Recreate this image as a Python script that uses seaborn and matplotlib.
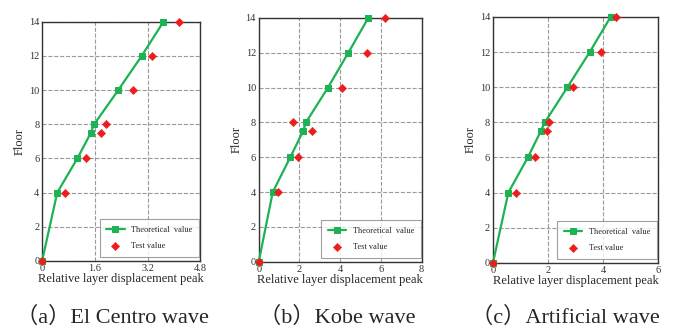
import numpy as np
import pandas as pd
import seaborn as sns
import matplotlib.pyplot as plt

# Floors where values are reported
floors = [0, 4, 6, 7.5, 8, 10, 12, 14]

# (a) El Centro wave
elcentro_theory = [0, 0.46, 1.07, 1.48, 1.58, 2.31, 3.02, 3.68]
elcentro_test = [0, 0.69, 1.34, 1.79, 1.95, 2.77, 3.34, 4.15]

# (b) Kobe wave
kobe_theory = [0, 0.69, 1.55, 2.18, 2.32, 3.40, 4.40, 5.38]
kobe_test = [0, 0.93, 1.95, 2.64, 1.67, 4.08, 5.30, 6.19]

# (c) Artificial wave
artificial_theory = [0, 0.56, 1.27, 1.74, 1.89, 2.71, 3.52, 4.28]
artificial_test = [0, 0.84, 1.54, 1.95, 2.03, 2.92, 3.92, 4.49]

captions = ["（a）El Centro wave", "（b）Kobe wave", "（c）Artificial wave"]
x_ticks = [[0, 1.6, 3.2, 4.8], [0, 2, 4, 6, 8], [0, 2, 4, 6]]
x_ticklabels = [["0", "1.6", "3.2", "4.8"], ["0", "2", "4", "6", "8"], ["0", "2", "4", "6"]]
y_ticks = [0, 2, 4, 6, 8, 10, 12, 14]

sns.set_theme(style="white")
plt.rcParams["font.family"] = ["Liberation Serif", "Noto Sans CJK SC"]

green = "#1db254"
red = "#ee1c1c"

fig = plt.figure(figsize=(6.79, 3.31), dpi=100)
boxes = [[0.062, 0.212, 0.233, 0.722],
         [0.381, 0.209, 0.240, 0.737],
         [0.726, 0.206, 0.243, 0.743]]
caption_x = [0.165, 0.497, 0.832]

series = [(elcentro_theory, elcentro_test),
          (kobe_theory, kobe_test),
          (artificial_theory, artificial_test)]

for i, (theory, test) in enumerate(series):
    ax = fig.add_axes(boxes[i])
    df_theory = pd.DataFrame({"x": theory, "floor": floors})
    df_test = pd.DataFrame({"x": test, "floor": floors})

    sns.lineplot(data=df_theory, x="x", y="floor", sort=False, ax=ax,
                 color=green, lw=1.6, marker="s", markersize=5,
                 markeredgecolor=green, label="Theoretical  value", zorder=3,
                 clip_on=False)
    sns.scatterplot(data=df_test, x="x", y="floor", ax=ax, color=red,
                    marker="D", s=18, edgecolor=red, label="Test value", zorder=4,
                    clip_on=False)

    ax.set_xlim(x_ticks[i][0], x_ticks[i][-1])
    ax.set_ylim(0, 14)
    ax.set_xticks(x_ticks[i])
    ax.set_xticklabels(x_ticklabels[i])
    ax.set_yticks(y_ticks)
    ax.grid(True, ls="--", color="#9a9a9a", lw=0.8)
    ax.tick_params(labelsize=7.5, pad=2, length=0, colors="#333333")
    for s in ax.spines.values():
        s.set_color("#333333")
        s.set_linewidth(1.0)
    ax.set_xlabel("Relative layer displacement peak", fontsize=9, labelpad=0.5)
    ax.set_ylabel("Floor", fontsize=9, labelpad=2)

    leg = ax.legend(loc="lower right", fontsize=6, frameon=True, fancybox=False,
                    edgecolor="#888888", handlelength=2.2, borderpad=0.8,
                    labelspacing=1.0, bbox_to_anchor=(1.02, 0.0))
    leg.get_frame().set_linewidth(0.8)
    leg.set_zorder(5)

    fig.text(caption_x[i], 0.04, captions[i], ha="center", va="center",
             fontsize=16)

fig.savefig("out.png", dpi=100)
